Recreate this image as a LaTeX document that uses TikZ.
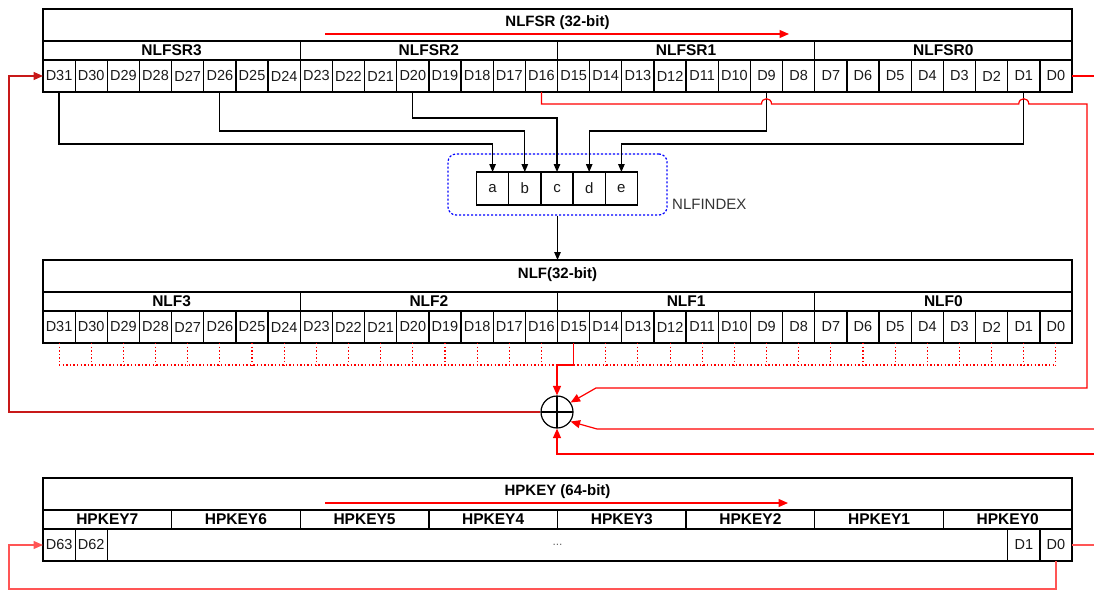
\documentclass[tikz,border=0pt]{standalone}
\usepackage{fontspec}
\setmainfont{Liberation Sans}
\usetikzlibrary{arrows.meta,calc}
\definecolor{dred}{RGB}{200,25,25}
\definecolor{lred}{RGB}{255,85,85}
\begin{document}
\begin{tikzpicture}[x=1pt,y=-1pt,
  box/.style={draw,line width=1.3pt,inner sep=0pt,outer sep=0pt},
  cellbox/.style={box,minimum width=32.156pt,minimum height=32pt,text=black!90,font=\fontsize{14.5}{15}\selectfont},
  subbox/.style={box,minimum height=19pt,font=\fontsize{15.5}{16}\bfseries\selectfont},
  titlebox/.style={box,minimum width=1029pt,minimum height=32pt},
  titletext/.style={inner sep=0pt,font=\fontsize{15}{16}\bfseries\selectfont},
  conn/.style={line width=1.2pt,-{Triangle[length=8pt,width=6.5pt]}},
  rline/.style={red,line width=1.2pt},
  redarr/.style={-{Triangle[length=9.5pt,width=8pt]}},
  dotline/.style={red,line width=1.1pt,dash pattern=on 1.4pt off 2.2pt},
]
\useasboundingbox (0,0) rectangle (1094,591);
\coordinate (lx) at (9,0);
\coordinate (rx) at (1094,0);

% ---------------- NLFSR ----------------
\node[titlebox] (srt) at (557.5,25) {};
\node[titletext] (srtl) at (557.5,22.5) {NLFSR (32-bit)};
\foreach \k/\lab in {0/NLFSR3,1/NLFSR2,2/NLFSR1,3/NLFSR0}
  \node[subbox,minimum width=257.25pt] (srs\k) at ({43+128.625+\k*257.25},50.5) {\lab};
\foreach \i in {0,...,31}{
  \pgfmathtruncatemacro\d{31-\i}
  \node[cellbox] (s\d) at ({43+16.078+\i*32.15625},76) {D\d};
}
\coordinate (sa1) at (325,34);
\coordinate (sa2) at (789,34);
\draw[rline,redarr] (sa1) -- (sa2);

% ---------------- NLFINDEX ----------------
\node[draw=blue,line width=1.2pt,dash pattern=on 2.2pt off 1.8pt,rounded corners=8pt,
      minimum width=219pt,minimum height=61pt,inner sep=0pt] (idx) at (557.5,184.5) {};
\foreach \l [count=\n from 0] in {a,b,c,d,e}
  \node[cellbox,minimum width=32.2pt,minimum height=33pt,font=\fontsize{15}{15}\selectfont] (i\l) at ({492.6+\n*32.2},188.5) {\l};
\node[anchor=west,inner sep=0pt,text=black!80,font=\fontsize{15}{16}\selectfont] (idxl) at (672,204) {NLFINDEX};

\coordinate (y1) at (0,118);
\coordinate (y2) at (0,131);
\coordinate (y3) at (0,144);
\draw[conn] (s31.south) |- (ia.north |- y3) -- (ia.north);
\draw[conn] (s26.south) |- (ib.north |- y2) -- (ib.north);
\draw[conn] (s20.south) |- (ic.north |- y1) -- (ic.north);
\draw[conn] (s9.south) |- (id.north |- y2) -- (id.north);
\draw[conn] (s1.south) |- (ie.north |- y3) -- (ie.north);

% ---------------- NLF ----------------
\node[titlebox] (nlft) at (557.5,276) {};
\node[titletext] (nlftl) at (557.5,275) {NLF(32-bit)};
\foreach \k/\lab in {0/NLF3,1/NLF2,2/NLF1,3/NLF0}
  \node[subbox,minimum width=257.25pt] (nls\k) at ({43+128.625+\k*257.25},301.5) {\lab};
\foreach \i in {0,...,31}{
  \pgfmathtruncatemacro\d{31-\i}
  \node[cellbox] (f\d) at ({43+16.078+\i*32.15625},327) {D\d};
}
\draw[conn] (idx.south) -- (nlft.north);

\coordinate (yd) at (0,365);
\foreach \d in {0,...,31}{
  \ifnum\d=15\else
    \draw[dotline] (f\d.south) -- (f\d.south |- yd);
  \fi
}
\draw[dotline] (f31.south |- yd) -- (f0.south |- yd);

% ---------------- XOR ----------------
\node[draw,circle,line width=1.2pt,minimum size=32pt,inner sep=0pt,
  path picture={\draw[line width=1.2pt]
    (path picture bounding box.north) -- (path picture bounding box.south)
    (path picture bounding box.west) -- (path picture bounding box.east);}] (xor) at (557,412) {};

\draw[rline,redarr] (f15.south) |- (xor.north |- yd) -- (xor.north);

\coordinate (yb) at (0,104);
\coordinate (rc1) at (1087,104);
\coordinate (rc2) at (596,388);
\draw[rline,redarr] (s16.south) |- ($(s9.south |- yb)+(-5,0)$)
   .. controls +(0,-7) and +(0,-7) .. ++(10,0)
   -- ($(s1.south |- yb)+(-5,0)$)
   .. controls +(0,-7) and +(0,-7) .. ++(10,0)
   -- (rc1) |- (rc2) -- (xor.35);

\coordinate (re1) at (1094,429);
\coordinate (rc3) at (597,429);
\draw[rline,redarr] (re1) -- (rc3) -- (xor.-35);

\coordinate (re2) at (1094,454);
\draw[rline,redarr] (re2) -| (xor.south);

\draw[dred,line width=1.5pt,redarr] (xor.west) -- (xor.west -| lx) |- (s31.west);
\draw[rline] (s0.east) -- (s0.east -| rx);

% ---------------- HPKEY ----------------
\node[titlebox] (hkt) at (557.5,494) {};
\node[titletext] (hktl) at (557.5,492) {HPKEY (64-bit)};
\foreach \k in {0,...,7}{
  \pgfmathtruncatemacro\n{7-\k}
  \node[subbox,minimum width=128.625pt] (hks\n) at ({43+64.3125+\k*128.625},519.5) {HPKEY\n};
}
\node[cellbox] (h63) at (59.08,545) {D63};
\node[cellbox] (h62) at (91.23,545) {D62};
\node[cellbox,minimum width=900.4pt,text=black!60,font=\fontsize{12}{12}\selectfont] (hmid) at (557.5,545) {...};
\node[cellbox] (h1) at (1023.8,545) {D1};
\node[cellbox] (h0) at (1055.9,545) {D0};
\coordinate (ha1) at (325,503);
\coordinate (ha2) at (788,503);
\draw[rline,redarr] (ha1) -- (ha2);

\coordinate (yh) at (0,589);
\draw[lred,line width=1.2pt,redarr] (h0.south) |- (lx |- yh) |- (h63.west);
\draw[lred,line width=1.2pt] (h0.east) -- (h0.east -| rx);
\end{tikzpicture}
\end{document}
